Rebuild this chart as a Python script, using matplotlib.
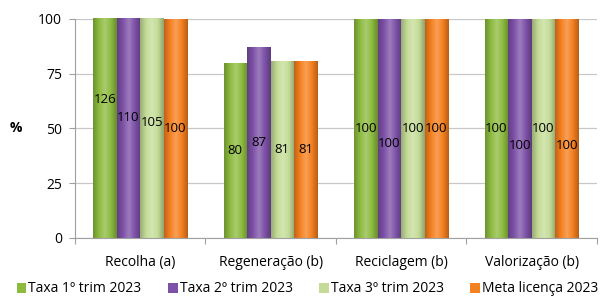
import matplotlib.pyplot as plt
import numpy as np
from matplotlib.colors import LinearSegmentedColormap, to_rgb
from matplotlib.patches import Patch

categories = ['Recolha (a)', 'Regeneração (b)', 'Reciclagem (b)', 'Valorização (b)']
series_names = ['Taxa 1º trim 2023', 'Taxa 2º trim 2023', 'Taxa 3º trim 2023', 'Meta licença 2023']
taxa_t1 = [126, 80, 100, 100]
taxa_t2 = [110, 87, 100, 100]
taxa_t3 = [105, 81, 100, 100]
meta = [100, 81, 100, 100]
yticks = [0, 25, 50, 75, 100]

series = [taxa_t1, taxa_t2, taxa_t3, meta]
colors = ['#8dbb3f', '#7d51a8', '#c4dc97', '#f5801f']
# label nudges (in % units) where excel moved the labels down
label_shift = [[0, 0, 0, 0], [0, 0, 0, 0], [0, -7, 0, 0], [0, -8, 0, -8]]

plt.rcParams['font.family'] = ['Open Sans', 'DejaVu Sans']

fig = plt.figure(figsize=(6.03, 3.0), dpi=100)
ax = fig.add_axes([0.124, 0.207, 0.866, 0.73])

x = np.arange(len(categories))
w = 0.18
offsets = (np.arange(4) - 1.5) * w


def shade(c):
    r = np.array(to_rgb(c))
    dark = r * 0.78
    light = np.clip(r + (1 - r) * 0.25, 0, 1)
    return LinearSegmentedColormap.from_list('s', [dark, r, light, r, dark * 0.95])


grad = np.linspace(0, 1, 64).reshape(1, -1)
for i, vals in enumerate(series):
    bars = ax.bar(x + offsets[i], vals, w, color=colors[i], edgecolor='none', zorder=2)
    cmap = shade(colors[i])
    for j, b in enumerate(bars):
        x0 = b.get_x()
        h = min(b.get_height(), 100)
        im = ax.imshow(grad, cmap=cmap, aspect='auto', extent=(x0, x0 + w, 0, h),
                       zorder=2.5, interpolation='bicubic')
        im.set_clip_path(b)
        ax.text(x0 + w / 2, vals[j] / 2 + label_shift[j][i], str(vals[j]),
                ha='center', va='center', fontsize=9.5, color='black', zorder=4)

ax.set_xlim(-0.5, len(categories) - 0.5)
ax.set_ylim(0, 100)
ax.set_yticks(yticks)
ax.yaxis.grid(True, color='#c8c8c8', linewidth=0.9, zorder=0)
ax.set_axisbelow(True)
ax.tick_params(axis='y', length=4, color='#a0a0a0', labelsize=10, pad=5)

ax.set_xticks(np.arange(len(categories) + 1) - 0.5)
ax.set_xticklabels([])
ax.tick_params(axis='x', which='major', length=4, color='#a0a0a0')
ax.set_xticks(x, minor=True)
ax.set_xticklabels(categories, minor=True)
ax.tick_params(axis='x', which='minor', length=0, labelsize=10, pad=12)

for s in ['top', 'right']:
    ax.spines[s].set_visible(False)
for s in ['left', 'bottom']:
    ax.spines[s].set_color('#a0a0a0')

ax.set_ylabel('%', rotation=0, fontsize=10, fontweight='bold', labelpad=16, va='center')

handles = [Patch(facecolor=c, edgecolor='none') for c in colors]
fig.legend(handles, series_names, loc='lower center', bbox_to_anchor=(0.51, -0.03), ncol=4,
           frameon=False, fontsize=10, handlelength=0.7, handleheight=0.7,
           handletextpad=0.15, columnspacing=1.9)

fig.savefig('out.png', dpi=100)
